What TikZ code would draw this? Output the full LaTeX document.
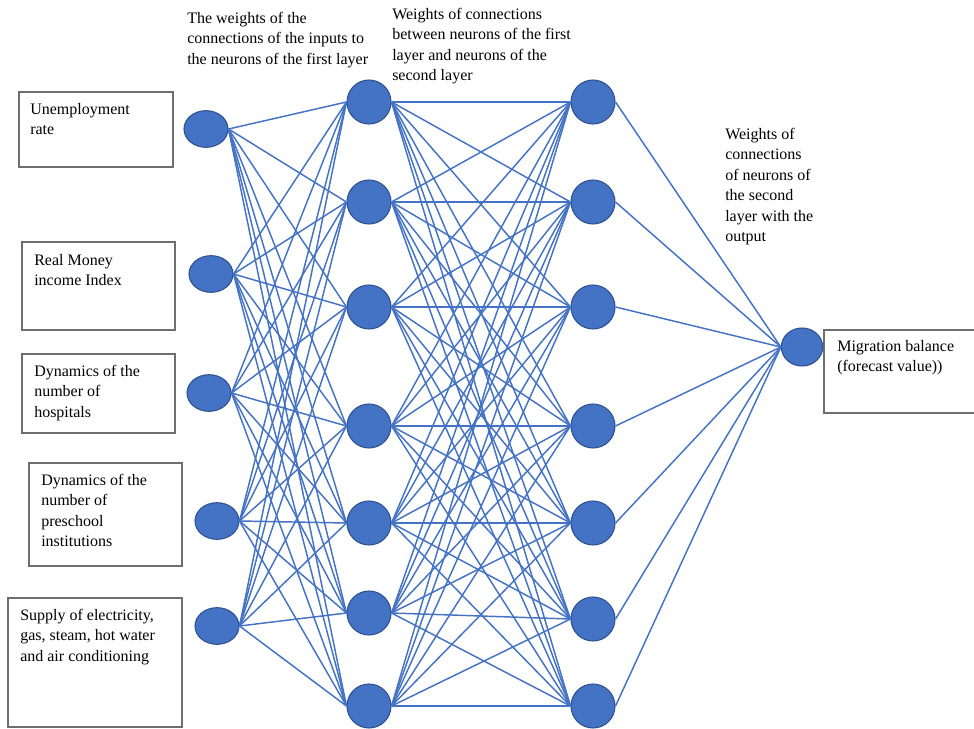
\documentclass[tikz,border=0pt]{standalone}
\usepackage{fontspec}
\setmainfont{Liberation Serif}
\usetikzlibrary{positioning,shapes.geometric}
\definecolor{cN}{HTML}{4472C4}
\definecolor{cB}{HTML}{2F528F}
\definecolor{cG}{HTML}{6E6E6E}
\tikzset{
  inneuron/.style={ellipse,draw=cB,line width=.8pt,fill=cN,
                   minimum width=33pt,minimum height=27.5pt,inner sep=0pt},
  neuron/.style={circle,draw=cB,line width=.8pt,fill=cN,
                 minimum size=33pt,inner sep=0pt},
  outneuron/.style={ellipse,draw=cB,line width=.8pt,fill=cN,
                    minimum width=31pt,minimum height=28.5pt,inner sep=0pt},
  wire/.style={cN,line width=1.1pt},
  inbox/.style={draw=cG,line width=.8pt},
  lbl/.style={anchor=north west,inner sep=0pt,align=left,
              font=\fontsize{12}{15.3}\selectfont},
}
\begin{document}
\begin{tikzpicture}[x=0.75pt,y=-0.75pt]
  \useasboundingbox (0,0) rectangle (974,728);
  % boxes with the inputs and the output
  \draw[inbox] (19,92) rectangle (173,167);
  \draw[inbox] (22,242) rectangle (175,330);
  \draw[inbox] (22,354) rectangle (175,433);
  \draw[inbox] (29,463) rectangle (182,566);
  \draw[inbox] (8,598) rectangle (182,727);
  \draw[inbox] (974,330) -- (824,330) -- (824,413) -- (974,413);
  \node[lbl] (t1) at (30,103) {Unemployment\\rate};
  \node[lbl] (t2) at (34,254) {Real Money\\income Index};
  \node[lbl] (t3) at (34,365) {Dynamics of the\\number of\\hospitals};
  \node[lbl] (t4) at (41,474) {Dynamics of the\\number of\\preschool\\institutions};
  \node[lbl] (t5) at (20,609) {Supply of electricity,\\gas, steam, hot water\\and air conditioning};
  \node[lbl] (tout) at (837,340) {Migration balance\\(forecast value))};
  % neurons
  \foreach \n/\x/\y in {1/206/129,2/211/274,3/209/393,4/217/521,5/217/626}
    \node[inneuron] (in\n) at (\x,\y) {};
  \foreach \n/\y in {1/102,2/202,3/307,4/426,5/523,6/613,7/706}
    \node[neuron] (a\n) at (369,\y) {};
  \foreach \n/\y in {1/102,2/202,3/307,4/426,5/523,6/619,7/706}
    \node[neuron] (b\n) at (593,\y) {};
  \node[outneuron] (out) at (802,347) {};
  % weights
  \foreach \i in {1,...,5}
    \foreach \j in {1,...,7}
      \draw[wire] (in\i.east) -- (a\j.west);
  \foreach \i in {1,...,7}
    \foreach \j in {1,...,7}
      \draw[wire] (a\i.east) -- (b\j.west);
  \foreach \i in {1,...,7}
    \draw[wire] (b\i.east) -- (out.west);
  \node[lbl] (w1) at (187,12) {The weights of the\\connections of the inputs to\\the neurons of the first layer};
  \node[lbl] (w2) at (392,8) {Weights of connections\\between neurons of the first\\layer and neurons of the\\second layer};
  \node[lbl] (w3) at (725,128) {Weights of\\connections\\of neurons of\\the second\\layer with the\\output};
\end{tikzpicture}
\end{document}
